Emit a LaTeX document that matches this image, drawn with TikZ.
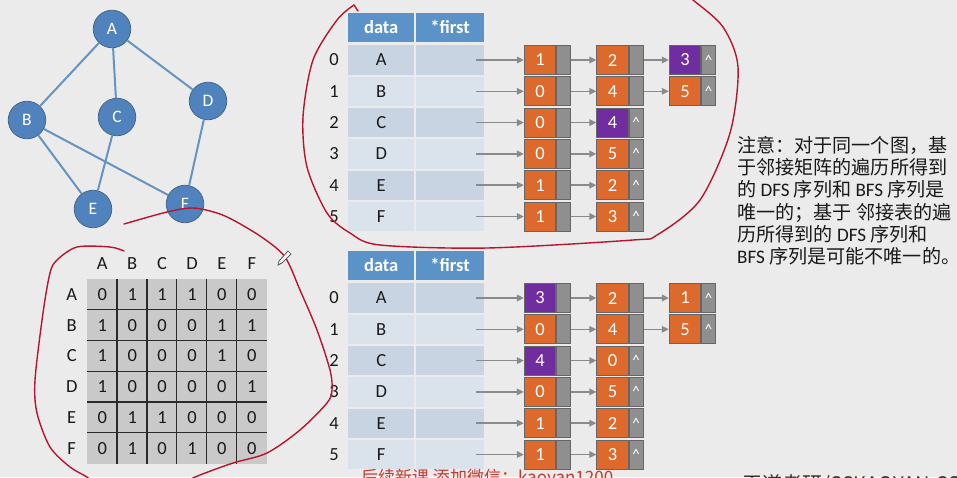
\documentclass[tikz,border=0pt]{standalone}
\usepackage{fontspec}
\setmainfont{Carlito}
\newfontfamily\cjk{Noto Sans CJK SC}
\usepackage{tikz}
\usetikzlibrary{
  arrows.meta,
  positioning
}
\definecolor{bgc}{HTML}{EBEBEB}
\definecolor{vfill}{HTML}{5083BE}
\definecolor{vline}{HTML}{6494BF}
\definecolor{headc}{HTML}{5B93C9}
\definecolor{rowa}{HTML}{C8D4E2}
\definecolor{rowb}{HTML}{DAE2EB}
\definecolor{orng}{HTML}{DD6A2C}
\definecolor{purp}{HTML}{6F2DA0}
\definecolor{ptrg}{HTML}{8F8F8F}
\definecolor{nodeline}{HTML}{666666}
\definecolor{arrowg}{HTML}{8A8A8A}
\definecolor{mgrey}{HTML}{C9C9C9}
\definecolor{mline}{HTML}{2B2B2B}
\definecolor{ink}{HTML}{B8142F}
\definecolor{wmred}{HTML}{C8372D}
\definecolor{wmdark}{HTML}{3B2A22}

\begin{document}
\begin{tikzpicture}[x=1pt,y=-1pt,
  vert/.style={circle,fill=vfill,draw=vline!70!black,line width=0.8,minimum size=37.5,
    inner sep=0,text=white,font=\fontsize{17.5}{17.5}\selectfont},
  gedge/.style={draw=vline,line width=2},
  lab/.style={inner sep=0,text=black!90,font=\fontsize{18.5}{18.5}\selectfont},
  cell/.style={lab,fill=mgrey,minimum width=29.9,minimum height=30.8},
  gridline/.style={draw=mline,line width=1.2},
  head/.style={fill=headc,text=white,minimum width=66,minimum height=29,inner sep=0,
    font=\bfseries\fontsize{18.5}{18.5}\selectfont},
  datac/.style={lab,minimum width=66,minimum height=29.3},
  firstc/.style={minimum width=68,minimum height=29.3,inner sep=0},
  val/.style={draw=nodeline,line width=0.8,minimum width=31.5,minimum height=29,inner sep=0,
    text=white,font=\fontsize{18.5}{18.5}\selectfont},
  ptr/.style={val,fill=ptrg,minimum width=14.3,font=\fontsize{15}{15}\selectfont},
  link/.style={draw=arrowg,line width=1.6,-{Triangle[length=7pt,width=6.5pt]}},
  ink/.style={draw=ink,line width=1.4,line cap=round,line join=round}
]
  \useasboundingbox (0,0) rectangle (957,477);
  \clip (0,0) rectangle (957,477);
  \fill[bgc] (0,0) rectangle (957,477);

  \node[vert] (vA) at (112,29)  {A};
  \node[vert] (vB) at (27,120)  {B};
  \node[vert] (vC) at (117,117) {C};
  \node[vert] (vD) at (208,101) {D};
  \node[vert] (vE) at (93,209)  {E};
  \node[vert] (vF) at (185,204) {F};
  \foreach \a/\b in {A/B,A/C,A/D,B/E,B/F,C/E,D/F}
    \draw[gedge] (v\a) -- (v\b);

  \foreach \lab [count=\c from 0] in {A,B,C,D,E,F}
    \node[lab] (mh\c) at (102.3+29.9*\c,264) {\lab};
  \foreach \lab/\vals [count=\r from 0] in {A/{0,1,1,1,0,0},B/{1,0,0,0,1,1},C/{1,0,0,0,1,0},
      D/{1,0,0,0,0,1},E/{0,1,1,0,0,0},F/{0,1,0,1,0,0}} {
    \node[lab] (ml\r) at (71.7,294.4+30.8*\r) {\lab};
    \foreach \v [count=\c from 0] in \vals
      \node[cell] (m\r\c) at (102.3+29.9*\c,294.4+30.8*\r) {\v};
  }
  \foreach \c in {1,...,5}
    \draw[gridline] (m0\c.north west) -- (m5\c.south west);
  \foreach \r in {1,...,5}
    \draw[gridline] (m\r0.north west) -- (m\r5.north east);

  \foreach \t/\oy in {u/0,l/238} {
    \node[head] (hd\t) at (381.2,27.2+\oy) {data};
    \node[head,minimum width=68] (hf\t) at (450,27.2+\oy) {*first};
  }
  \foreach \t/\oy/\r/\lab/\n/\lst in {
      u/0/0/A/3/{1/orng,2/orng,3/purp}, u/0/1/B/3/{0/orng,4/orng,5/orng},
      u/0/2/C/2/{0/orng,4/purp}, u/0/3/D/2/{0/orng,5/orng},
      u/0/4/E/2/{1/orng,2/orng}, u/0/5/F/2/{1/orng,3/orng},
      l/238/0/A/3/{3/purp,2/orng,1/orng}, l/238/1/B/3/{0/orng,4/orng,5/orng},
      l/238/2/C/2/{4/purp,0/orng}, l/238/3/D/2/{0/orng,5/orng},
      l/238/4/E/2/{1/orng,2/orng}, l/238/5/F/2/{1/orng,3/orng}} {
    \pgfmathsetmacro\yy{60+31.3*\r+\oy}
    \ifodd\r \def\rc{rowb}\else \def\rc{rowa}\fi
    \node[lab] (i\t\r) at (334,\yy) {\r};
    \node[datac,fill=\rc] (d\t\r) at (381.2,\yy) {\lab};
    \node[firstc,fill=\rc] (f\t\r) at (450,\yy) {};
    \foreach \v/\col [count=\k, remember=\k as \pk (initially 0)] in \lst {
      \pgfmathsetmacro\xx{540+72.5*(\k-1)}
      \node[val,fill=\col] (\t\r\k) at (\xx,\yy) {\v};
      \node[ptr,right=0pt of \t\r\k] (\t\r\k p) {\ifnum\k=\n \^{}\fi};
      \ifnum\k=1
        \draw[link] ([xshift=-8pt]f\t\r.east) -- (\t\r\k);
      \else
        \draw[link] (\t\r\pk p) -- (\t\r\k);
      \fi
    }
  }

  \node[anchor=north west,align=left,inner sep=0,text=black!90,
    font=\cjk\fontsize{19.1}{22.2}\selectfont] (note) at (737,136)
    {注意：对于同一个图，基\\于邻接矩阵的遍历所得到\\的\textrm{ DFS }序列和\textrm{ BFS }序列是\\
     唯一的；基于 邻接表的遍\\历所得到的\textrm{ DFS }序列和\\\textrm{BFS }序列是可能不唯一的。};

  \draw[ink] (358,11) -- (354,5);
  \draw[ink] plot[smooth] coordinates {(354,5) (337,20) (313,60) (303,117) (307,167)
    (327,213) (350,233) (380,245) (487,248) (633,240) (657,235) (700,200) (730,133)
    (738,67) (723,27) (693,0) (685,-6)};
  \draw[ink] plot[smooth] coordinates {(124,251) (110,247) (77,247) (57,260) (50,273)
    (43,313) (35,380) (37,413) (50,447) (70,467) (87,477) (95,484)};
  \draw[ink] plot[smooth] coordinates {(124,224) (167,212) (193,208) (217,213) (235,221)
    (263,238) (285,257) (300,290) (317,330) (330,370) (332,390) (327,403) (300,430)
    (267,453) (233,463) (200,475) (180,484)};
  \draw[gray!60!black,line width=0.7,fill=white!90!gray]
    (288,251) -- (291,254) -- (282,263) -- (278,265) -- (279,261) -- cycle;

  \node[anchor=base west,inner sep=0,text=wmred,font=\cjk\fontsize{17}{17}\selectfont]
    (wm) at (361,483) {后续新课 添加微信：kaoyan1200};
  \node[anchor=base west,inner sep=0,text=wmdark,font=\cjk\fontsize{20}{20}\selectfont]
    (site) at (742,491.5) {王道考研/CSKAOYAN.COM};
\end{tikzpicture}
\end{document}
